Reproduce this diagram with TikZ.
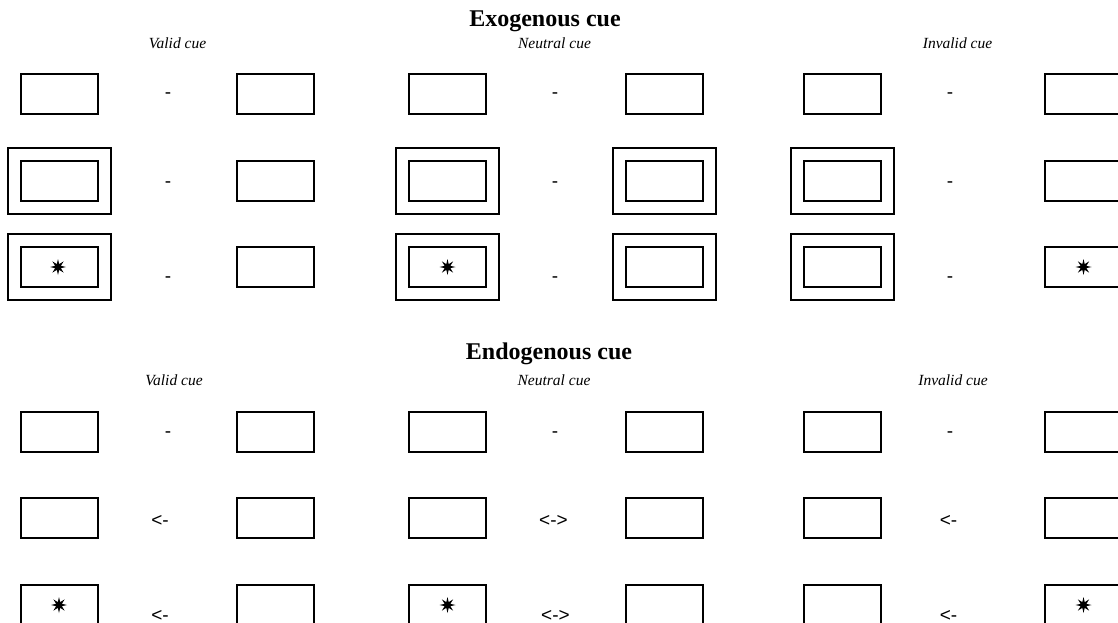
\documentclass[tikz,border=0pt]{standalone}
\usepackage{fontspec}
\setmainfont{Liberation Serif}
\newfontfamily\symfont{Liberation Sans}
\usetikzlibrary{shapes.geometric}

\begin{document}
\begin{tikzpicture}[x=1pt,y=-1pt,
  cuebox/.style={draw, line width=2pt, minimum width=77pt, minimum height=40pt, inner sep=0pt},
  cueframe/.style={draw, line width=1.6pt, minimum width=103pt, minimum height=66pt, inner sep=0pt},
  target/.style={star, star points=8, star point ratio=2.6, fill=black, draw=none, minimum size=16pt, inner sep=0pt},
  heading/.style={anchor=base, inner sep=0pt, font=\fontsize{24}{28}\selectfont\bfseries},
  cuelabel/.style={anchor=base, inner sep=0pt, font=\fontsize{15.5}{18}\selectfont\itshape},
  sign/.style={anchor=base, inner sep=0pt, font=\fontsize{19}{22}\selectfont\symfont}
]
\useasboundingbox (0,0) rectangle (1118,623);
\clip (0,0) rectangle (1118,623);

% ---------------- Exogenous cue ----------------
\node[heading] (exoTitle) at (545,27) {Exogenous cue};
\node[cuelabel] (exoValid) at (177.5,49) {Valid cue};
\node[cuelabel] (exoNeutral) at (554.5,49) {Neutral cue};
\node[cuelabel] (exoInvalid) at (957.5,49) {Invalid cue};

% row 1: fixation
\node[cuebox] (eVa1L) at (59.5,94) {};
\node[cuebox] (eVa1R) at (275.5,94) {};
\node[cuebox] (eNe1L) at (447.5,94) {};
\node[cuebox] (eNe1R) at (664.5,94) {};
\node[cuebox] (eIn1L) at (842.5,94) {};
\node[cuebox] (eIn1R) at (1083.5,94) {};
\node[sign] (eVa1s) at (168,99) {-};
\node[sign] (eNe1s) at (555,99) {-};
\node[sign] (eIn1s) at (950,99) {-};

% row 2: cue frames
\node[cuebox] (eVa2L) at (59.5,181) {};
\node[cueframe] (eVa2Lf) at (59.5,181) {};
\node[cuebox] (eVa2R) at (275.5,181) {};
\node[cuebox] (eNe2L) at (447.5,181) {};
\node[cueframe] (eNe2Lf) at (447.5,181) {};
\node[cuebox] (eNe2R) at (664.5,181) {};
\node[cueframe] (eNe2Rf) at (664.5,181) {};
\node[cuebox] (eIn2L) at (842.5,181) {};
\node[cueframe] (eIn2Lf) at (842.5,181) {};
\node[cuebox] (eIn2R) at (1083.5,181) {};
\node[sign] (eVa2s) at (168,187) {-};
\node[sign] (eNe2s) at (555,187) {-};
\node[sign] (eIn2s) at (950,187) {-};

% row 3: target
\node[cuebox] (eVa3L) at (59.5,267) {};
\node[cueframe] (eVa3Lf) at (59.5,267) {};
\node[target] (eVa3t) at (58,267) {};
\node[cuebox] (eVa3R) at (275.5,267) {};
\node[cuebox] (eNe3L) at (447.5,267) {};
\node[cueframe] (eNe3Lf) at (447.5,267) {};
\node[target] (eNe3t) at (447.5,267) {};
\node[cuebox] (eNe3R) at (664.5,267) {};
\node[cueframe] (eNe3Rf) at (664.5,267) {};
\node[cuebox] (eIn3L) at (842.5,267) {};
\node[cueframe] (eIn3Lf) at (842.5,267) {};
\node[cuebox] (eIn3R) at (1083.5,267) {};
\node[target] (eIn3t) at (1083.5,267) {};
\node[sign] (eVa3s) at (168,282) {-};
\node[sign] (eNe3s) at (555,282) {-};
\node[sign] (eIn3s) at (950,282) {-};

% ---------------- Endogenous cue ----------------
\node[heading] (endoTitle) at (549,359) {Endogenous cue};
\node[cuelabel] (endoValid) at (174,385) {Valid cue};
\node[cuelabel] (endoNeutral) at (554,385) {Neutral cue};
\node[cuelabel] (endoInvalid) at (953,385) {Invalid cue};

% row 1: fixation
\node[cuebox] (nVa1L) at (59.5,432) {};
\node[cuebox] (nVa1R) at (275.5,432) {};
\node[cuebox] (nNe1L) at (447.5,432) {};
\node[cuebox] (nNe1R) at (664.5,432) {};
\node[cuebox] (nIn1L) at (842.5,432) {};
\node[cuebox] (nIn1R) at (1083.5,432) {};
\node[sign] (nVa1s) at (168,437) {-};
\node[sign] (nNe1s) at (555,437) {-};
\node[sign] (nIn1s) at (950,437) {-};

% row 2: central arrow cue
\node[cuebox] (nVa2L) at (59.5,518) {};
\node[cuebox] (nVa2R) at (275.5,518) {};
\node[cuebox] (nNe2L) at (447.5,518) {};
\node[cuebox] (nNe2R) at (664.5,518) {};
\node[cuebox] (nIn2L) at (842.5,518) {};
\node[cuebox] (nIn2R) at (1083.5,518) {};
\node[sign] (nVa2s) at (160,526) {<-};
\node[sign] (nNe2s) at (553.5,526) {<->};
\node[sign] (nIn2s) at (948.5,526) {<-};

% row 3: target
\node[cuebox] (nVa3L) at (59.5,605) {};
\node[target] (nVa3t) at (59,605) {};
\node[cuebox] (nVa3R) at (275.5,605) {};
\node[cuebox] (nNe3L) at (447.5,605) {};
\node[target] (nNe3t) at (447.5,605) {};
\node[cuebox] (nNe3R) at (664.5,605) {};
\node[cuebox] (nIn3L) at (842.5,605) {};
\node[cuebox] (nIn3R) at (1083.5,605) {};
\node[target] (nIn3t) at (1083.5,605) {};
\node[sign] (nVa3s) at (160,621) {<-};
\node[sign] (nNe3s) at (555.5,621) {<->};
\node[sign] (nIn3s) at (948.5,621) {<-};
\end{tikzpicture}
\end{document}
